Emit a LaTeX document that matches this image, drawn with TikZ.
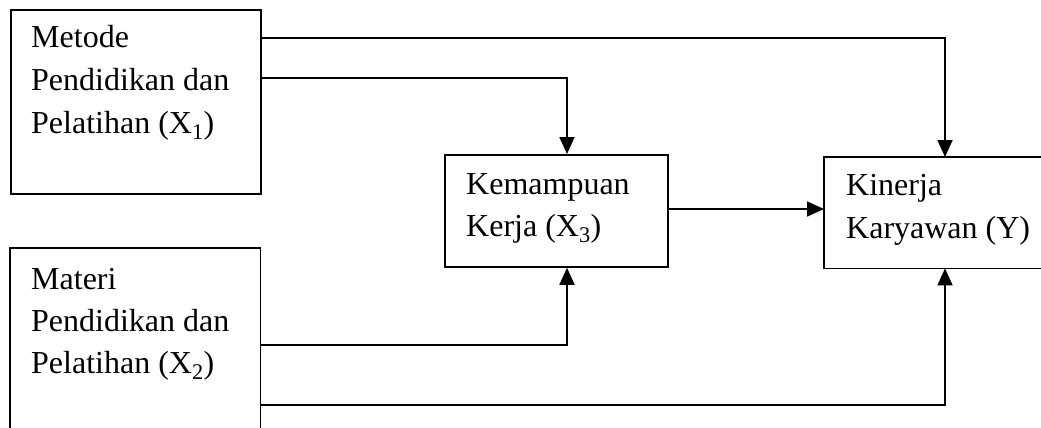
\documentclass[tikz,border=0pt]{standalone}
\usepackage{fontspec}
\setmainfont{Liberation Serif}
\usetikzlibrary{arrows.meta}
\begin{document}
\begin{tikzpicture}[x=1pt,y=-1pt,
  box/.style={draw=black,line width=1.8pt,rectangle,inner sep=0pt,anchor=north west},
  openbox/.style={rectangle,inner sep=0pt,anchor=north west},
  edge/.style={line width=1.8pt},
  txt/.style={inner sep=0pt,anchor=base west,font=\fontsize{32}{38}\selectfont},
  arr/.style={line width=1.8pt,-{Triangle[length=17pt,width=15pt]}}]
\useasboundingbox (0,0) rectangle (1041,428);
% boxes
\node[box,minimum width=250pt,minimum height=184pt] (m1) at (10,9) {};
\node[openbox,minimum width=250pt,minimum height=200pt] (m2) at (10,248) {};
\draw[edge] (m2.south west) -- (m2.north west) -- (m2.north east) -- (m2.south east);
\node[box,minimum width=223pt,minimum height=112pt] (kem) at (444,154) {};
\node[openbox,minimum width=240pt,minimum height=111pt] (kin) at (824,157) {};
\draw[edge] (kin.north east) -- (kin.north west) -- (kin.south west) -- (kin.south east);
% texts
\node[txt] (t11) at (31,48) {Metode};
\node[txt] (t12) at (31,90.5) {Pendidikan dan};
\node[txt] (t13) at (31,133) {Pelatihan (X\textsubscript{1})};
\node[txt] (t21) at (31,289) {Materi};
\node[txt] (t22) at (31,331) {Pendidikan dan};
\node[txt] (t23) at (31,373) {Pelatihan (X\textsubscript{2})};
\node[txt] (t31) at (466,194) {Kemampuan};
\node[txt] (t32) at (466,236) {Kerja (X\textsubscript{3})};
\node[txt] (t41) at (846,195) {Kinerja};
\node[txt] (t42) at (846,238) {Karyawan (Y)};
% helper coordinates
\coordinate (xk) at (567,0);
\coordinate (xy) at (945,0);
\coordinate (ya) at (0,38);
\coordinate (yb) at (0,78);
\coordinate (yc) at (0,209);
\coordinate (yd) at (0,345);
\coordinate (ye) at (0,405);
% connectors
\draw[arr] (m1.east |- ya) -| (kin.north -| xy);
\draw[arr] (m1.east |- yb) -| (kem.north -| xk);
\draw[arr] (kem.east |- yc) -- (kin.west |- yc);
\draw[arr] (m2.east |- yd) -| (kem.south -| xk);
\draw[arr] (m2.east |- ye) -| (kin.south -| xy);
\end{tikzpicture}
\end{document}
